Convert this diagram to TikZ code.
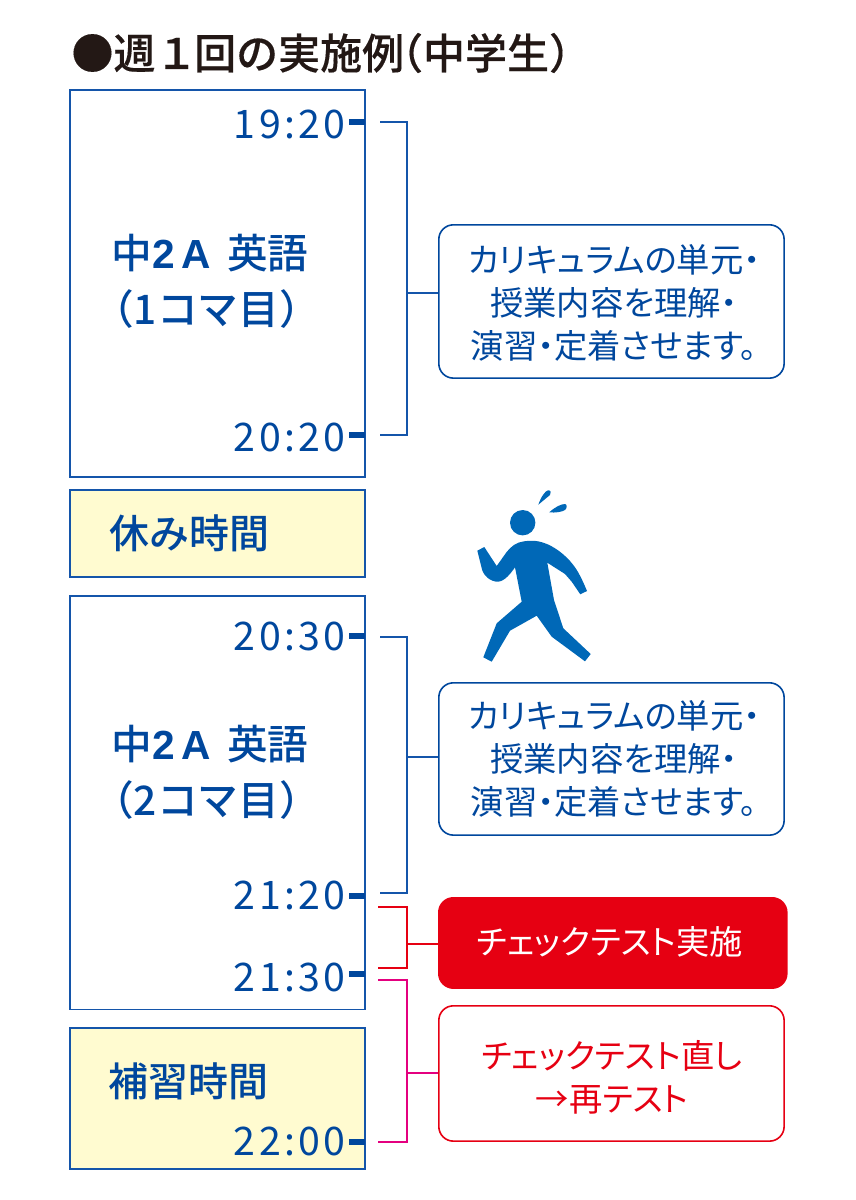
\documentclass[tikz,border=0pt]{standalone}
\usepackage{fontspec}
\setmainfont{Noto Sans CJK JP}
\newfontfamily\timefont[LetterSpace=8.5]{Noto Sans CJK JP}
\newfontfamily\medfont{Noto Sans CJK JP Medium}
\newfontfamily\titlefont[FakeBold=0.3]{Noto Sans CJK JP Medium}
\newfontfamily\notefont[RawFeature=+palt]{Noto Sans CJK JP}
\newfontfamily\latinfont{Liberation Sans}
\definecolor{lessonblue}{RGB}{0,71,157}
\definecolor{frameblue}{RGB}{20,85,170}
\definecolor{runblue}{RGB}{0,104,183}
\definecolor{restyellow}{RGB}{255,251,208}
\definecolor{testred}{RGB}{230,0,18}
\definecolor{fixpink}{RGB}{228,0,127}
\definecolor{titleblack}{RGB}{35,24,21}
\tikzset{
  every picture/.style={line width=0.75pt},
  lessonbox/.style={draw=frameblue,line width=1.3pt,anchor=north west,inner sep=0pt},
  restbox/.style={lessonbox,fill=restyellow},
  notebox/.style={draw=lessonblue,line width=1.2pt,rounded corners=11pt,inner sep=0pt,anchor=north west},
  notetext/.style={align=center,inner sep=0pt,text=lessonblue,font=\fontsize{25}{32}\selectfont\notefont},
  timetext/.style={anchor=east,text=lessonblue,inner sep=0pt,font=\fontsize{29.5}{30}\selectfont\timefont},
  headtext/.style={anchor=west,text=lessonblue,inner sep=0pt,align=left,font=\fontsize{30.5}{42}\selectfont\medfont},
  timetick/.style={draw=lessonblue,line width=4.5pt},
  bluebracket/.style={draw=frameblue,line width=0.9pt},
  redbracket/.style={draw=testred,line width=0.9pt},
  pinkbracket/.style={draw=fixpink,line width=0.9pt}
}
\newcommand{\wideA}{{\latinfont\bfseries 2\,A}}
\begin{document}
\begin{tikzpicture}[x=0.75pt,y=0.75pt,yscale=-1,xscale=1]
\useasboundingbox (0,0) rectangle (856,1200);

% Title
\node [anchor=west,inner sep=0pt,text=titleblack,font=\fontsize{31.5}{34}\selectfont\titlefont] (title) at (71,53) {●週１\hspace{-.08em}回の実施例\hspace{-.55em}（中学生）};

% Left boxes
\node [lessonbox,minimum width=221.3pt,minimum height=290.3pt] (lessonA) at (69,89) {};
\node [restbox,minimum width=221.3pt,minimum height=65.3pt] (restA) at (69,489) {};
\node [lessonbox,minimum width=221.3pt,minimum height=310.3pt] (lessonB) at (69,595) {};
\node [restbox,minimum width=221.3pt,minimum height=105.8pt] (restB) at (69,1027) {};

% Text in left boxes
\node [headtext] (headA) at (111,281) {中\wideA\hspace{.4em}英語\\\hspace*{-.45em}（1コマ目）};
\node [headtext] (headB) at (111,772) {中\wideA\hspace{.4em}英語\\\hspace*{-.45em}（2コマ目）};
\node [headtext,font=\fontsize{30}{34}\selectfont\medfont] (restAtext) at (109,533) {休み時間};
\node [headtext,font=\fontsize{30}{34}\selectfont\medfont] (restBtext) at (108,1081) {補習時間};

% Times
\node [timetext] (tA) at (346,124) {19:20};
\node [timetext] (tB) at (346,437) {20:20};
\node [timetext] (tC) at (346,636) {20:30};
\node [timetext] (tD) at (346,895) {21:20};
\node [timetext] (tE) at (346,977) {21:30};
\node [timetext] (tF) at (346,1141) {22:00};

% Ticks
\draw [timetick] (349,122) -- (365,122);
\draw [timetick] (349,435) -- (365,435);
\draw [timetick] (349,636) -- (365,636);
\draw [timetick] (349,896) -- (365,896);
\draw [timetick] (349,974) -- (365,974);
\draw [timetick] (349,1142) -- (365,1142);

% Right boxes
\node [notebox,minimum width=259pt,minimum height=115pt] (noteA) at (438,224) {};
\node [notebox,minimum width=259pt,minimum height=114.25pt] (noteB) at (438,682) {};
\node [notebox,draw=testred,fill=testred,minimum width=261pt,minimum height=67.75pt] (noteC) at (438,897) {};
\node [notebox,draw=testred,minimum width=259pt,minimum height=101.5pt] (noteD) at (438,1005) {};

% Text in right boxes
\node [notetext] (noteAtext) at (614,303) {カリキュラムの単元・\\授業内容を理解・\\演習・定着させます。};
\node [notetext] (noteBtext) at (614,759) {カリキュラムの単元・\\授業内容を理解・\\演習・定着させます。};
\node [notetext,text=white] (noteCtext) at (610,942) {チェックテスト実施};
\node [notetext,text=testred] (noteDtext) at (612,1077) {チェックテスト直し\\→再テスト};

% Bracket ends
\coordinate (bA1) at (380,122);
\coordinate (bA2) at (380,435);
\coordinate (bB1) at (380,637);
\coordinate (bB2) at (380,893);
\coordinate (bC1) at (378,907);
\coordinate (bC2) at (378,968);
\coordinate (bD1) at (378,980);
\coordinate (bD2) at (378,1142);

% Brackets
\draw [bluebracket] (bA1) -- (407,122) -- (407,435) -- (bA2);
\draw [bluebracket] (407,293) -- (noteA.west |- 0,293);
\draw [bluebracket] (bB1) -- (407,637) -- (407,893) -- (bB2);
\draw [bluebracket] (407,757) -- (noteB.west |- 0,757);
\draw [redbracket] (bC1) -- (407,907) -- (407,968) -- (bC2);
\draw [redbracket] (407,944) -- (noteC.west |- 0,944);
\draw [pinkbracket] (bD1) -- (407,980) -- (407,1142) -- (bD2);
\draw [pinkbracket] (407,1073) -- (noteD.west |- 0,1073);

% Runner
\fill [runblue] (522.7,522.7) circle [radius=12.7];
\fill [runblue] (477.3,550.7) -- (484.3,547) -- (496.7,566) -- (503.3,556.7) .. controls (507,551) and (512,545) .. (518.3,542.7) .. controls (527,540) and (537,540) .. (545,543.3) .. controls (553,546) and (565,554) .. (573.3,565) .. controls (578,571) and (582,579) .. (587,591) -- (580.3,594.3) -- (571.7,581.7) -- (565,574) -- (547.3,562.7) -- (554,600) -- (563.3,628.3) -- (590.7,654) -- (585,661.3) -- (551.7,636.7) -- (536.7,615.7) -- (510,630.7) -- (491.7,661.7) -- (483.3,657.3) -- (496.7,623.3) -- (521.7,601.7) -- (515,567.3) .. controls (511,573) and (505,581) .. (498.3,581.7) .. controls (490,582) and (483,575) .. (481.7,568.3) -- cycle;
\fill [runblue] (538.3,504.7) .. controls (541,497) and (545,491) .. (548,490.3) .. controls (551,490) and (551.5,493) .. (550,495) -- cycle;
\fill [runblue] (549.3,512.3) .. controls (555,507) and (561,504) .. (565,504) .. controls (567,504) and (567.5,508) .. (565,510) .. controls (562,512) and (555,513) .. (549.3,512.3) -- cycle;

\end{tikzpicture}
\end{document}
